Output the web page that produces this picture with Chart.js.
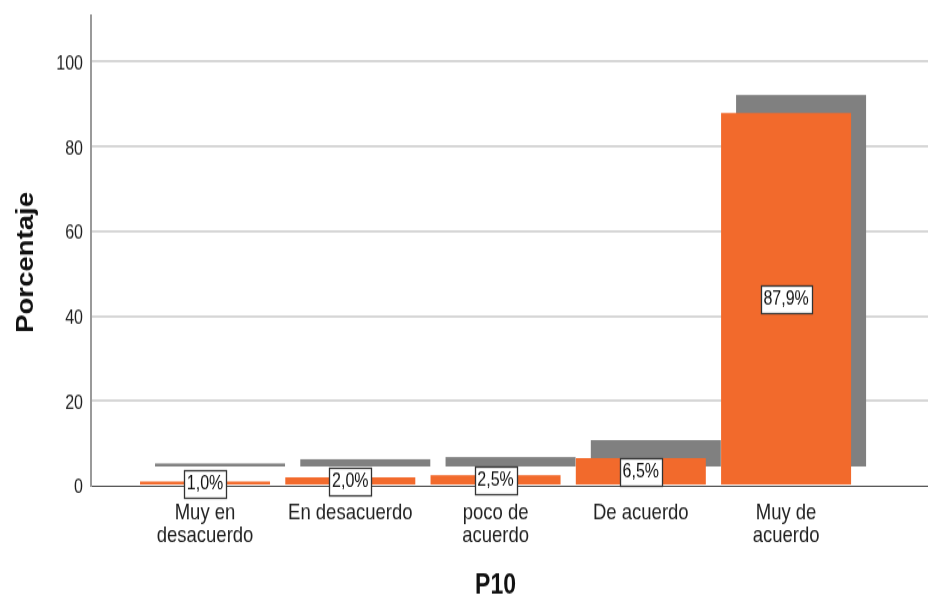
<!DOCTYPE html>
<html>
<head>
<meta charset="utf-8">
<script src="https://cdn.jsdelivr.net/npm/chart.js@4.4.1/dist/chart.umd.min.js"></script>
<style>
  html, body { margin: 0; padding: 0; background: #fff; width: 928px; height: 596px; overflow: hidden; }
  #wrap { width: 928px; height: 497px; transform: scale(1, 1.1992); transform-origin: 0 0; }
  canvas { display: block; }
</style>
</head>
<body>
<div id="wrap"><canvas id="c" width="928" height="497" style="width:928px;height:497px"></canvas></div>
<script>
// Response categories for P10 and their share of answers (%)
const categories = [['Muy en', 'desacuerdo'], 'En desacuerdo', ['poco de', 'acuerdo'], 'De acuerdo', ['Muy de', 'acuerdo']];
const percentages = [1.0, 2.0, 2.5, 6.5, 87.9];
const yTicks = [0, 20, 40, 60, 80, 100];
const xTitle = 'P10';
const yTitle = 'Porcentaje';

const ORANGE = '#f26a2c';
const SHADOW = '#808080';
const DEPTH = 15;              // pseudo-3D depth of the bars, px
const FONT = '"Liberation Sans", Arial, sans-serif';

// Grey back face of each bar, offset up and to the right
const barShadow = {
  id: 'barShadow',
  beforeDatasetsDraw(chart) {
    const ctx = chart.ctx;
    ctx.save();
    ctx.fillStyle = SHADOW;
    chart.getDatasetMeta(0).data.forEach(bar => {
      const { x, y, base, width } = bar.getProps(['x', 'y', 'base', 'width'], true);
      ctx.fillRect(x - width / 2 + DEPTH, y - DEPTH, width, base - y);
    });
    ctx.restore();
  }
};

// Boxed percentage label in the middle of each bar
const valueBoxes = {
  id: 'valueBoxes',
  afterDatasetsDraw(chart) {
    const ctx = chart.ctx;
    ctx.save();
    ctx.font = '16px ' + FONT;
    ctx.textAlign = 'center';
    ctx.textBaseline = 'middle';
    chart.getDatasetMeta(0).data.forEach((bar, i) => {
      const { x, y, base } = bar.getProps(['x', 'y', 'base'], true);
      const text = percentages[i].toFixed(1).replace('.', ',') + '%';
      const w = Math.round(ctx.measureText(text).width + 6);
      const h = 23;
      const cy = Math.round((y + base) / 2);
      const left = Math.round(x - w / 2) + 0.5;
      const top = Math.round(cy - h / 2) + 0.5;
      ctx.fillStyle = '#ffffff';
      ctx.fillRect(left, top, w, h);
      ctx.strokeStyle = '#333333';
      ctx.lineWidth = 1.3;
      ctx.strokeRect(left, top, w, h);
      ctx.fillStyle = '#111111';
      ctx.fillText(text, x, cy + 1);
    });
    ctx.restore();
  }
};

// Axis titles: x title centred under the categories, y title rotated
const axisTitles = {
  id: 'axisTitles',
  afterDraw(chart) {
    const ctx = chart.ctx;
    const xs = chart.scales.x;
    const area = chart.chartArea;
    ctx.save();
    ctx.fillStyle = '#111111';
    ctx.font = 'bold 23px ' + FONT;
    ctx.textAlign = 'center';
    ctx.textBaseline = 'alphabetic';
    ctx.fillText(xTitle, xs.getPixelForValue((categories.length - 1) / 2), 495);
    ctx.translate(33, (area.top + area.bottom) / 2 + 10);
    ctx.rotate(-Math.PI / 2);
    ctx.fillText(yTitle, 0, 0);
    ctx.restore();
  }
};

new Chart(document.getElementById('c'), {
  type: 'bar',
  data: {
    datasets: [{
      data: percentages.map((v, i) => ({ x: i, y: v })),
      backgroundColor: ORANGE,
      borderWidth: 0,
      barPercentage: 0.895,
      categoryPercentage: 1
    }]
  },
  options: {
    responsive: false,
    animation: false,
    devicePixelRatio: 1,
    layout: { padding: { top: 12.5, right: 0, left: 0, bottom: 0 } },
    plugins: { legend: { display: false }, tooltip: { enabled: false } },
    scales: {
      x: {
        type: 'linear',
        offset: false,
        min: -0.785,
        max: 4.977,
        grid: { display: false, offset: false },
        border: { display: true, color: '#444444', width: 1 },
        afterBuildTicks: s => { s.ticks = categories.map((_, i) => ({ value: i })); },
        afterFit: s => { s.height = 92; s.paddingLeft = 0; s.paddingRight = 0; },
        ticks: {
          autoSkip: false,
          maxRotation: 0,
          padding: 6,
          color: '#222222',
          font: { family: FONT, size: 18.5, lineHeight: 1.0 },
          callback: (v, i) => categories[i]
        }
      },
      y: {
        min: 0,
        max: 111,
        afterBuildTicks: s => { s.ticks = yTicks.map(v => ({ value: v })); },
        afterFit: s => { s.width = 91; s.paddingTop = 0; s.paddingBottom = 0; },
        grid: {
          color: c => (c.tick && c.tick.value === 0 ? 'rgba(0,0,0,0)' : '#d6d6d6'),
          lineWidth: 2,
          drawTicks: false
        },
        border: { display: true, color: '#9a9a9a', width: 2 },
        ticks: {
          padding: 8,
          labelOffset: 2,
          color: '#1e1e1e',
          font: { family: FONT, size: 16 }
        }
      }
    }
  },
  plugins: [barShadow, valueBoxes, axisTitles]
});
</script>
</body>
</html>
